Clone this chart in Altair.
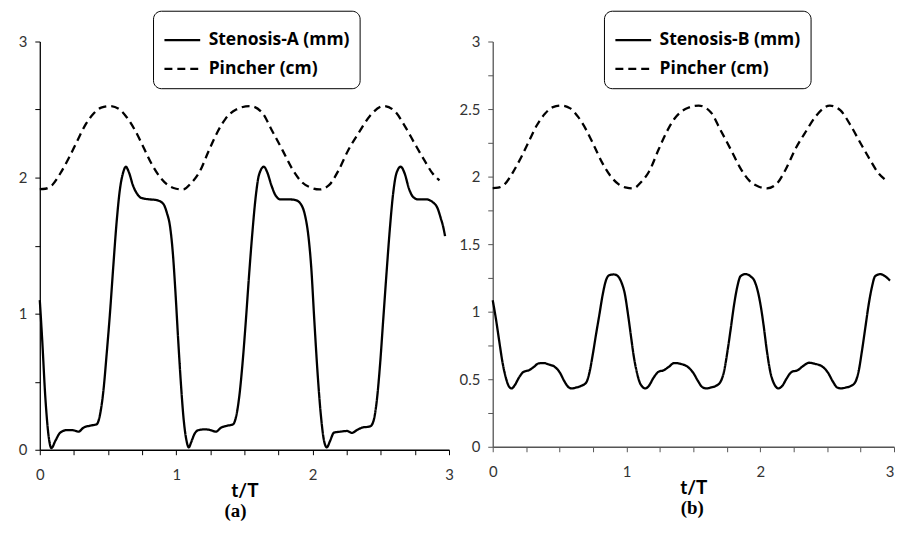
import altair as alt
import pandas as pd

# ---------------- data ----------------
# Stenosis-A (mm), panel (a)
a_t = [0.000, 0.017, 0.041, 0.066, 0.085, 0.114, 0.150, 0.200, 0.248, 0.284, 0.320, 0.369, 0.417,
       0.442, 0.466, 0.490, 0.515, 0.539, 0.563, 0.587, 0.612, 0.631, 0.653, 0.684, 0.714, 0.745,
       0.806, 0.854, 0.903, 0.932, 0.955, 0.975, 0.995, 1.015, 1.035, 1.055, 1.075, 1.092, 1.109,
       1.133, 1.165, 1.218, 1.255, 1.291, 1.328, 1.376, 1.417, 1.437, 1.461, 1.485, 1.510, 1.534,
       1.558, 1.583, 1.607, 1.643, 1.667, 1.699, 1.728, 1.765, 1.825, 1.874, 1.917, 1.945, 1.968,
       1.990, 2.012, 2.036, 2.060, 2.084, 2.104, 2.128, 2.157, 2.205, 2.253, 2.289, 2.325, 2.361,
       2.422, 2.446, 2.470, 2.494, 2.518, 2.542, 2.566, 2.590, 2.614, 2.646, 2.675, 2.706, 2.735,
       2.771, 2.831, 2.880, 2.916, 2.940, 2.957, 2.971]
a_v = [1.10, 0.82, 0.38, 0.09, 0.012, 0.065, 0.126, 0.145, 0.143, 0.133, 0.162, 0.177, 0.187,
       0.26, 0.43, 0.70, 1.01, 1.35, 1.67, 1.91, 2.04, 2.08, 2.04, 1.94, 1.88, 1.85,
       1.84, 1.835, 1.81, 1.74, 1.64, 1.45, 1.15, 0.80, 0.48, 0.22, 0.07, 0.017, 0.053,
       0.114, 0.145, 0.15, 0.143, 0.133, 0.162, 0.177, 0.187, 0.235, 0.38, 0.62, 0.94, 1.28,
       1.59, 1.86, 2.02, 2.08, 2.04, 1.94, 1.87, 1.84, 1.84, 1.835, 1.80, 1.72, 1.58,
       1.34, 0.96, 0.57, 0.26, 0.065, 0.017, 0.065, 0.126, 0.133, 0.138, 0.124, 0.145, 0.162,
       0.172, 0.21, 0.356, 0.62, 0.96, 1.30, 1.62, 1.88, 2.03, 2.08, 2.03, 1.92, 1.86,
       1.84, 1.84, 1.82, 1.775, 1.70, 1.64, 1.57]

# Stenosis-B (mm), panel (b)
b_t = [0.000, 0.025, 0.049, 0.074, 0.098, 0.123, 0.142, 0.167, 0.196, 0.233, 0.270, 0.306, 0.343,
       0.380, 0.417, 0.466, 0.502, 0.534, 0.564, 0.588, 0.625, 0.662, 0.699, 0.723, 0.748, 0.772,
       0.797, 0.821, 0.846, 0.870, 0.907, 0.936, 0.963, 0.988, 1.010, 1.032, 1.056, 1.081, 1.105,
       1.142, 1.167, 1.203, 1.240, 1.277, 1.314, 1.358, 1.400, 1.460, 1.498, 1.534, 1.564, 1.596,
       1.632, 1.669, 1.700, 1.730, 1.755, 1.780, 1.804, 1.828, 1.853, 1.890, 1.926, 1.958, 1.982,
       2.004, 2.025, 2.050, 2.074, 2.099, 2.136, 2.165, 2.198, 2.235, 2.279, 2.321, 2.365, 2.407,
       2.469, 2.506, 2.543, 2.575, 2.605, 2.642, 2.679, 2.709, 2.736, 2.760, 2.785, 2.810, 2.835,
       2.859, 2.896, 2.933, 2.970]
b_v = [1.085, 0.94, 0.78, 0.62, 0.512, 0.444, 0.432, 0.459, 0.512, 0.556, 0.566, 0.59, 0.617,
       0.62, 0.61, 0.59, 0.549, 0.488, 0.444, 0.432, 0.439, 0.451, 0.476, 0.549, 0.683, 0.83,
       0.976, 1.12, 1.23, 1.27, 1.276, 1.263, 1.215, 1.13, 0.99, 0.83, 0.66, 0.537, 0.463,
       0.432, 0.451, 0.512, 0.556, 0.566, 0.59, 0.62, 0.615, 0.59, 0.549, 0.488, 0.444, 0.432,
       0.439, 0.451, 0.476, 0.561, 0.707, 0.878, 1.049, 1.183, 1.263, 1.278, 1.263, 1.225, 1.15,
       1.04, 0.90, 0.707, 0.56, 0.476, 0.432, 0.451, 0.507, 0.554, 0.566, 0.598, 0.622, 0.615,
       0.59, 0.549, 0.483, 0.439, 0.432, 0.439, 0.451, 0.476, 0.561, 0.707, 0.878, 1.049, 1.183,
       1.263, 1.278, 1.263, 1.23]

# Pincher (cm), same in both panels
p_t = [0.00, 0.04, 0.09, 0.15, 0.21, 0.27, 0.33, 0.39, 0.45, 0.515, 0.58, 0.64, 0.70, 0.76, 0.82,
       0.88, 0.94, 1.00, 1.05, 1.11, 1.17, 1.24, 1.30, 1.36, 1.44, 1.54, 1.63, 1.70, 1.78, 1.85,
       1.92, 1.99, 2.05, 2.12, 2.19, 2.26, 2.34, 2.42, 2.52, 2.60, 2.675, 2.75, 2.82, 2.88, 2.93]
p_v = [1.915, 1.918, 1.944, 2.03, 2.138, 2.26, 2.38, 2.465, 2.514, 2.526, 2.505, 2.44, 2.344, 2.223, 2.10,
       2.005, 1.944, 1.918, 1.913, 1.96, 2.04, 2.20, 2.33, 2.43, 2.50, 2.526, 2.477, 2.35, 2.20, 2.065,
       1.968, 1.925, 1.913, 1.944, 2.053, 2.199, 2.332, 2.453, 2.526, 2.49, 2.38, 2.247, 2.126, 2.03, 1.98]

names_a = ["Stenosis-A (mm)", "Pincher (cm)"]
names_b = ["Stenosis-B (mm)", "Pincher (cm)"]
x_ticks = [i * 0.25 for i in range(13)]
y_ticks_a = [i * 0.5 for i in range(7)]
y_ticks_b = [i * 0.25 for i in range(13)]

FONT = "Lato"
LEGEND_FONT = "Open Sans"


def frame(st_t, st_v, names):
    d1 = pd.DataFrame({"t": st_t, "v": st_v, "s": names[0]})
    d2 = pd.DataFrame({"t": p_t, "v": p_v, "s": names[1]})
    return pd.concat([d1, d2], ignore_index=True)


def panel(df, names, w, h, y_ticks, y_label_expr, lx, ly, tag, tag_dx, axis_color, last_align):
    return alt.Chart(df).mark_line(
        interpolate="monotone", color="black", strokeWidth=2.3
    ).encode(
        x=alt.X("t:Q", scale=alt.Scale(domain=[0, 3], nice=False, zero=False),
                axis=alt.Axis(values=x_ticks, title="t/T", grid=False, labelFlush=False,
                              labelExpr="datum.value % 1 == 0 ? format(datum.value, 'd') : ''",
                              labelAlign={"condition": {"test": "datum.value >= 3", "value": last_align},
                                          "value": "center"},
                              domainColor=axis_color, tickColor=axis_color, tickSize=5,
                              labelPadding=13, titlePadding=-1)),
        y=alt.Y("v:Q", scale=alt.Scale(domain=[0, 3], nice=False, zero=False),
                axis=alt.Axis(values=y_ticks, title=None, grid=False, labelExpr=y_label_expr,
                              domainColor=axis_color, tickColor=axis_color, tickSize=5,
                              labelPadding=8)),
        strokeDash=alt.StrokeDash(
            "s:N", sort=names,
            scale=alt.Scale(domain=names, range=[[1, 0], [8, 5]]),
            legend=alt.Legend(title=None, orient="none", legendX=lx, legendY=ly,
                              symbolType="stroke", symbolSize=1296, symbolStrokeWidth=2.3,
                              symbolStrokeColor="black", labelFont=LEGEND_FONT,
                              labelFontWeight="bold", labelFontSize=17.6, labelColor="black",
                              labelOffset=7, strokeColor="black", fillColor="white",
                              cornerRadius=8, padding=10, rowPadding=-3)),
    ).properties(
        width=w, height=h,
        title=alt.TitleParams(tag, orient="bottom", font="Liberation Serif", fontSize=19,
                              fontWeight="bold", color="black", offset=2, dx=tag_dx),
    )


pa = panel(frame(a_t, a_v, names_a), names_a, 412, 411, y_ticks_a,
           "datum.value % 1 == 0 ? format(datum.value, 'd') : ''", 114, -31, "(a)", -9,
           "#000000", "center")
pb = panel(frame(b_t, b_v, names_b), names_b, 404, 408, y_ticks_b,
           "datum.value % 0.5 == 0 ? format(datum.value, '~g') : ''", 112, -31, "(b)", -1,
           "#555555", "right")

chart = alt.hconcat(pa, pb, spacing=44, bounds="flush").resolve_scale(
    x="independent", y="independent", strokeDash="independent"
).resolve_legend(strokeDash="independent").properties(
    padding={"left": 10, "top": 0, "right": 0, "bottom": 0}
).configure_view(stroke=None).configure_axis(
    labelFont=FONT, labelFontSize=15, labelColor="#333333",
    titleFont=FONT, titleFontSize=19, titleFontWeight="bold", titleColor="black",
    domainWidth=1.3, tickWidth=1
)

chart.save("out.html", embed_options={"renderer": "svg", "actions": False})
